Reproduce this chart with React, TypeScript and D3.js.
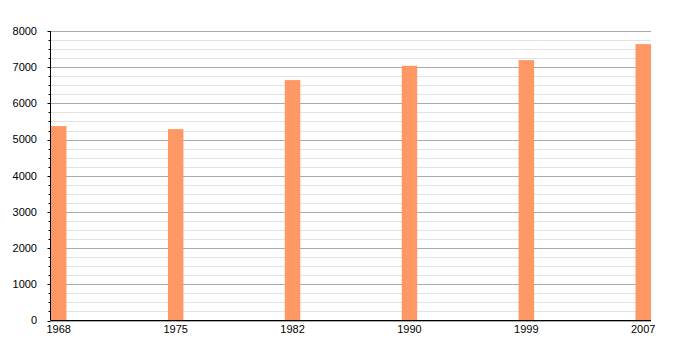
import React from "react";
import * as d3 from "d3";

const years = ["1968", "1975", "1982", "1990", "1999", "2007"];
const population = [5373, 5290, 6643, 7039, 7196, 7638];
const majorTicks = [0, 1000, 2000, 3000, 4000, 5000, 6000, 7000, 8000];

export default function App() {
  const W = 700, H = 350;
  const left = 50.5, right = 651, top = 31, bottom = 320.5;
  const barW = 15.5;
  const y = d3.scaleLinear().domain([0, 8000]).range([bottom, top]);
  const x = d3
    .scalePoint<string>()
    .domain(years)
    .range([left + 0.5 + barW / 2, right - barW / 2]);
  const minor = d3.range(0, 8001, 250).filter((v) => v % 1000 !== 0);
  return (
    <svg width={W} height={H} style={{ position: "absolute", left: 0, top: 0 }} fontFamily="'Liberation Sans', Arial, sans-serif">
      {minor.map((v) => (
        <line key={"m" + v} x1={left} x2={right} y1={Math.round(y(v)) + 0.5} y2={Math.round(y(v)) + 0.5} stroke="#e2e2e2" />
      ))}
      {majorTicks.map((v) => (
        <line key={"g" + v} x1={left} x2={right} y1={Math.round(y(v)) + 0.5} y2={Math.round(y(v)) + 0.5} stroke="#aaaaaa" />
      ))}
      {minor.map((v) => (
        <line key={"mt" + v} x1={left - 2} x2={left} y1={Math.round(y(v)) + 0.5} y2={Math.round(y(v)) + 0.5} stroke="#000" />
      ))}
      {majorTicks.map((v) => (
        <g key={"t" + v}>
          <line x1={left - 3} x2={left} y1={Math.round(y(v)) + 0.5} y2={Math.round(y(v)) + 0.5} stroke="#000" />
          <text x={37} y={y(v)} dy="0.35em" textAnchor="end" fontSize={11} fill="#000">{v}</text>
        </g>
      ))}
      {years.map((yr, i) => (
        <rect key={yr} x={(x(yr) as number) - barW / 2} y={y(population[i])} width={barW} height={bottom - y(population[i])} fill="#fe9966" />
      ))}
      <line x1={left} x2={left} y1={top} y2={bottom} stroke="#000" />
      <line x1={left} x2={right} y1={bottom} y2={bottom} stroke="#000" />
      {years.map((yr) => (
        <text key={"l" + yr} x={x(yr) as number} y={333} textAnchor="middle" fontSize={11} fill="#000">{yr}</text>
      ))}
    </svg>
  );
}
